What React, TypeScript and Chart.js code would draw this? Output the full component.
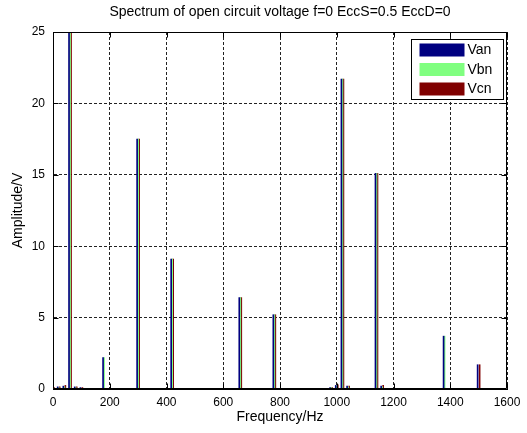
import React, { useEffect, useRef } from "react";
import { Chart, registerables } from "chart.js";

Chart.register(...registerables);

// ---- data ----
const frequencies = [0, 20, 40, 60, 80, 100, 120, 180, 240, 300, 420, 540, 660, 780, 900, 980, 1000, 1020, 1040, 1140, 1160, 1380, 1500];
const van = [0.1, 0.15, 0.2, 27, 0.15, 0.1, 0.05, 2.2, 0.03, 17.5, 9.1, 0.03, 6.4, 5.2, 0.03, 0.1, 0.25, 21.7, 0.2, 15.1, 0.2, 3.7, 1.7];
const vbn = [0.05, 0.1, 0.15, 27, 0.1, 0.05, 0.05, 2.2, 0.03, 17.5, 9.1, 0.03, 6.4, 5.2, 0.03, 0.1, 0.2, 21.7, 0.15, 15.1, 0.15, 3.7, 0.05];
const vcn = [0.1, 0.15, 0.25, 27, 0.15, 0.1, 0.05, 0.05, 0.03, 17.5, 9.1, 0.03, 6.4, 5.2, 0.03, 0.1, 0.3, 21.7, 0.2, 15.1, 0.25, 0.05, 1.7];
const seriesNames = ["Van", "Vbn", "Vcn"];
const xTicks = [0, 200, 400, 600, 800, 1000, 1200, 1400, 1600];
const yTicks = [0, 5, 10, 15, 20, 25];
const titleText = "Spectrum of open circuit voltage f=0 EccS=0.5 EccD=0";
const xLabel = "Frequency/Hz";
const yLabel = "Amplitude/V";

const colors = ["#000080", "#80ff80", "#800000"];
const FONT = "'Liberation Sans', Arial, sans-serif";

const boxPlugin = {
  id: "matlabBox",
  afterDraw(chart: any) {
    const { ctx, chartArea: a } = chart;
    const xs = chart.scales.x;
    const ys = chart.scales.y;
    ctx.save();
    ctx.strokeStyle = "#000";
    ctx.lineWidth = 1;
    ctx.setLineDash([]);
    ctx.beginPath();
    const L = Math.round(a.left) + 0.5;
    const R = Math.round(a.right) - 0.5;
    const T = Math.round(a.top) + 0.5;
    const B = Math.round(a.bottom) - 0.5;
    ctx.rect(L, T, R - L, B - T);
    for (const v of xTicks) {
      const px = Math.round(xs.getPixelForValue(v)) + 0.5;
      ctx.moveTo(px, B); ctx.lineTo(px, B - 5);
      ctx.moveTo(px, T); ctx.lineTo(px, T + 5);
    }
    for (const v of yTicks) {
      const py = Math.round(ys.getPixelForValue(v)) + 0.5;
      ctx.moveTo(L, py); ctx.lineTo(L + 5, py);
      ctx.moveTo(R, py); ctx.lineTo(R - 5, py);
    }
    ctx.stroke();

    // legend
    const bx = Math.round(a.right) - 95.5;
    const by = Math.round(a.top) + 7.5;
    const bw = 92;
    const bh = 60;
    ctx.fillStyle = "#fff";
    ctx.fillRect(bx, by, bw, bh);
    ctx.strokeStyle = "#000";
    ctx.strokeRect(bx, by, bw, bh);
    ctx.font = `14px ${FONT}`;
    ctx.textBaseline = "middle";
    ctx.textAlign = "left";
    chart.data.datasets.forEach((ds: any, i: number) => {
      const ry = by + 4 + i * 19.5;
      ctx.fillStyle = ds.backgroundColor;
      ctx.fillRect(bx + 8, ry, 45, 13);
      ctx.fillStyle = "#000";
      ctx.fillText(ds.label, bx + 56, ry + 7);
    });
    ctx.restore();
  },
};

export default function App() {
  const ref = useRef<HTMLCanvasElement | null>(null);
  useEffect(() => {
    document.body.style.margin = "0";
    const canvas = ref.current!;
    const chart = new Chart(canvas, {
      type: "bar",
      data: {
        datasets: [van, vbn, vcn].map((vals, i) => ({
          label: seriesNames[i],
          data: frequencies.map((f, j) => ({ x: f, y: vals[j] })),
          backgroundColor: colors[i],
          borderWidth: 0,
          barThickness: 1,
        })),
      },
      options: {
        responsive: false,
        animation: false,
        devicePixelRatio: 1,
        layout: { padding: { left: 0, right: 20, top: 0, bottom: 0 } },
        plugins: {
          legend: { display: false },
          tooltip: { enabled: false },
          title: {
            display: true,
            text: titleText,
            fullSize: false,
            color: "#000",
            font: { family: FONT, size: 14, weight: "normal" },
            padding: { top: 3.6, bottom: 11.6 },
          },
        },
        scales: {
          x: {
            type: "linear",
            min: 0,
            max: 1600,
            offset: false,
            grid: { color: "#222", drawTicks: false, offset: false },
            border: { display: true, color: "#000", dash: [3, 2] },
            afterBuildTicks: (s: any) => { s.ticks = xTicks.map((v) => ({ value: v })); },
            afterFit: (s: any) => { s.height = 44; },
            ticks: {
              color: "#000",
              font: { family: FONT, size: 12 },
              padding: 6,
              maxRotation: 0,
              autoSkip: false,
              callback: (v: any) => String(v),
            },
            title: { display: true, text: xLabel, color: "#000", font: { family: FONT, size: 14 }, padding: { top: 0, bottom: 7 } },
          },
          y: {
            min: 0,
            max: 25,
            grid: { color: "#222", drawTicks: false },
            border: { display: true, color: "#000", dash: [3, 2] },
            afterBuildTicks: (s: any) => { s.ticks = yTicks.map((v) => ({ value: v })); },
            afterFit: (s: any) => { s.width = 53; },
            ticks: { color: "#000", font: { family: FONT, size: 12 }, padding: 8, callback: (v: any) => String(v) },
            title: { display: true, text: yLabel, color: "#000", font: { family: FONT, size: 14 }, padding: { top: 10, bottom: 0 } },
          },
        },
      },
      plugins: [boxPlugin],
    } as any);
    return () => chart.destroy();
  }, []);
  return (
    <div style={{ width: 527, height: 433, background: "#fff" }}>
      <canvas ref={ref} width={527} height={433} style={{ display: "block", width: 527, height: 433 }} />
    </div>
  );
}
